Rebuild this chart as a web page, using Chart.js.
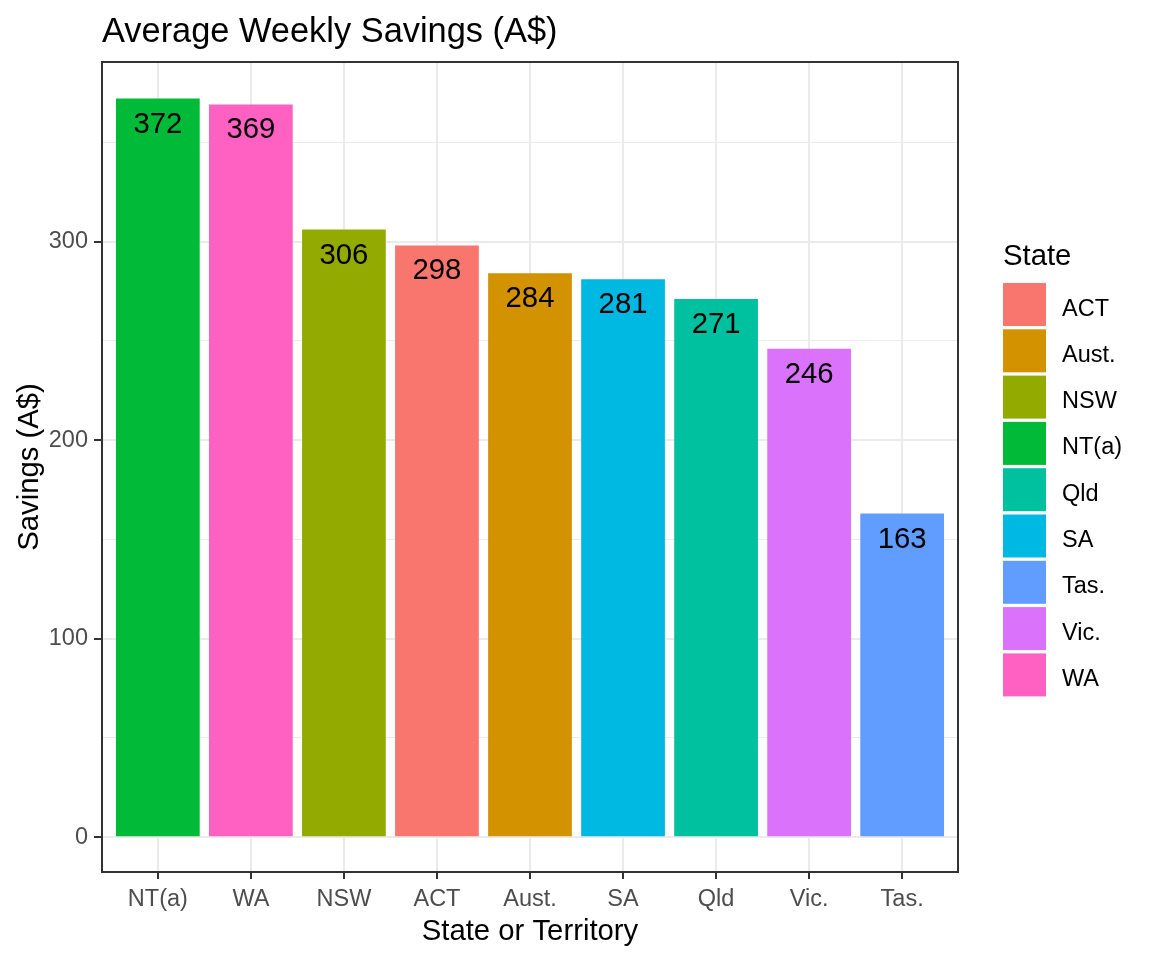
<!DOCTYPE html>
<html>
<head>
<meta charset="utf-8">
<script src="https://cdn.jsdelivr.net/npm/chart.js@4"></script>
<style>
  body { margin: 0; background: #fff; }
</style>
</head>
<body>
<canvas id="poupanca" width="1152" height="960"></canvas>
<script>
// dados (ordenados do maior para o menor)
const states = ['NT(a)', 'WA', 'NSW', 'ACT', 'Aust.', 'SA', 'Qld', 'Vic.', 'Tas.'];
const savings = [372, 369, 306, 298, 284, 281, 271, 246, 163];

// legenda (ordem alfabetica) e cores
const legendStates = ['ACT', 'Aust.', 'NSW', 'NT(a)', 'Qld', 'SA', 'Tas.', 'Vic.', 'WA'];
const legendColors = ['#F8766D', '#D39200', '#93AA00', '#00BA38', '#00C19F', '#00B9E3', '#619CFF', '#DB72FB', '#FF61C3'];

// eixo y
const yTicks = [0, 50, 100, 150, 200, 250, 300, 350];
const yMin = -17.5;
const yMax = 390.4;

const FONT = "'Liberation Sans', Arial, sans-serif";
const barColors = states.map(s => legendColors[legendStates.indexOf(s)]);

// fundo branco, valores, borda, titulo e legenda
const extras = {
  id: 'extras',
  beforeDraw(chart) {
    const ctx = chart.ctx;
    ctx.save();
    ctx.fillStyle = '#ffffff';
    ctx.fillRect(0, 0, chart.width, chart.height);
    ctx.restore();
  },
  afterDatasetsDraw(chart) {
    const ctx = chart.ctx;
    const area = chart.chartArea;
    const meta = chart.getDatasetMeta(0);

    // valores sobre as barras
    ctx.save();
    ctx.font = '29.3px ' + FONT;
    ctx.fillStyle = '#000000';
    ctx.textAlign = 'center';
    ctx.textBaseline = 'alphabetic';
    meta.data.forEach((bar, i) => {
      ctx.fillText(String(savings[i]), bar.x, bar.y + 34);
    });

    // borda do painel
    ctx.strokeStyle = '#333333';
    ctx.lineWidth = 2;
    ctx.strokeRect(area.left, area.top, area.right - area.left, area.bottom - area.top);
    ctx.restore();
  },
  afterDraw(chart) {
    const ctx = chart.ctx;
    ctx.save();
    ctx.fillStyle = '#000000';
    ctx.textAlign = 'left';
    ctx.textBaseline = 'alphabetic';
    ctx.font = '34.4px ' + FONT;
    ctx.fillText('Average Weekly Savings (A$)', 102, 42);

    // legenda
    ctx.font = '29.3px ' + FONT;
    ctx.fillText('State', 1003, 265);
    ctx.font = '23.5px ' + FONT;
    legendStates.forEach((s, i) => {
      const top = 283 + i * 46.3;
      ctx.fillStyle = legendColors[i];
      ctx.fillRect(1003, top, 43, 43);
      ctx.fillStyle = '#000000';
      ctx.fillText(s, 1062, top + 32.5);
    });
    ctx.restore();
  }
};

const ctx = document.getElementById('poupanca');

new Chart(ctx, {
  type: 'bar',
  data: {
    datasets: [{
      label: 'Savings',
      data: savings.map((v, i) => ({ x: i + 1, y: v })),
      backgroundColor: barColors,
      borderWidth: 0,
      inflateAmount: 0,
      categoryPercentage: 1,
      barPercentage: 0.9
    }]
  },
  options: {
    responsive: false,
    devicePixelRatio: 1,
    animation: false,
    layout: { padding: { top: 62, right: 194, bottom: 0, left: 0 } },
    plugins: {
      legend: { display: false },
      title: { display: false },
      tooltip: { enabled: false }
    },
    scales: {
      x: {
        type: 'linear',
        min: 0.4,
        max: 9.6,
        offset: false,
        afterBuildTicks: (scale) => {
          scale.ticks = states.map((s, i) => ({ value: i + 1 }));
        },
        afterFit: (scale) => { scale.height = 88; },
        border: { display: false },
        grid: {
          offset: false,
          color: '#EBEBEB',
          lineWidth: 2,
          tickColor: '#333333',
          tickWidth: 2,
          tickLength: 7
        },
        ticks: {
          autoSkip: false,
          maxRotation: 0,
          padding: 6,
          color: '#4D4D4D',
          font: { family: FONT, size: 23.5 },
          callback: (v) => states[v - 1]
        },
        title: {
          display: true,
          text: 'State or Territory',
          color: '#000000',
          font: { family: FONT, size: 29.3 },
          padding: { top: 0, bottom: 11 }
        }
      },
      y: {
        type: 'linear',
        min: yMin,
        max: yMax,
        afterBuildTicks: (scale) => {
          scale.ticks = yTicks.map(v => ({ value: v }));
        },
        afterFit: (scale) => { scale.width = 102; },
        border: { display: false },
        grid: {
          color: '#EBEBEB',
          lineWidth: (c) => (c.tick && c.tick.value % 100 === 0 ? 2 : 1),
          tickColor: (c) => (c.tick && c.tick.value % 100 === 0 ? '#333333' : 'rgba(0,0,0,0)'),
          tickWidth: 2,
          tickLength: 8
        },
        ticks: {
          padding: 6,
          color: '#4D4D4D',
          font: { family: FONT, size: 23.5 },
          callback: (v) => (v % 100 === 0 ? String(v) : '')
        },
        title: {
          display: true,
          text: 'Savings (A$)',
          color: '#000000',
          font: { family: FONT, size: 29.3 },
          padding: { top: 12, bottom: 0 }
        }
      }
    }
  },
  plugins: [extras]
});
</script>
</body>
</html>
